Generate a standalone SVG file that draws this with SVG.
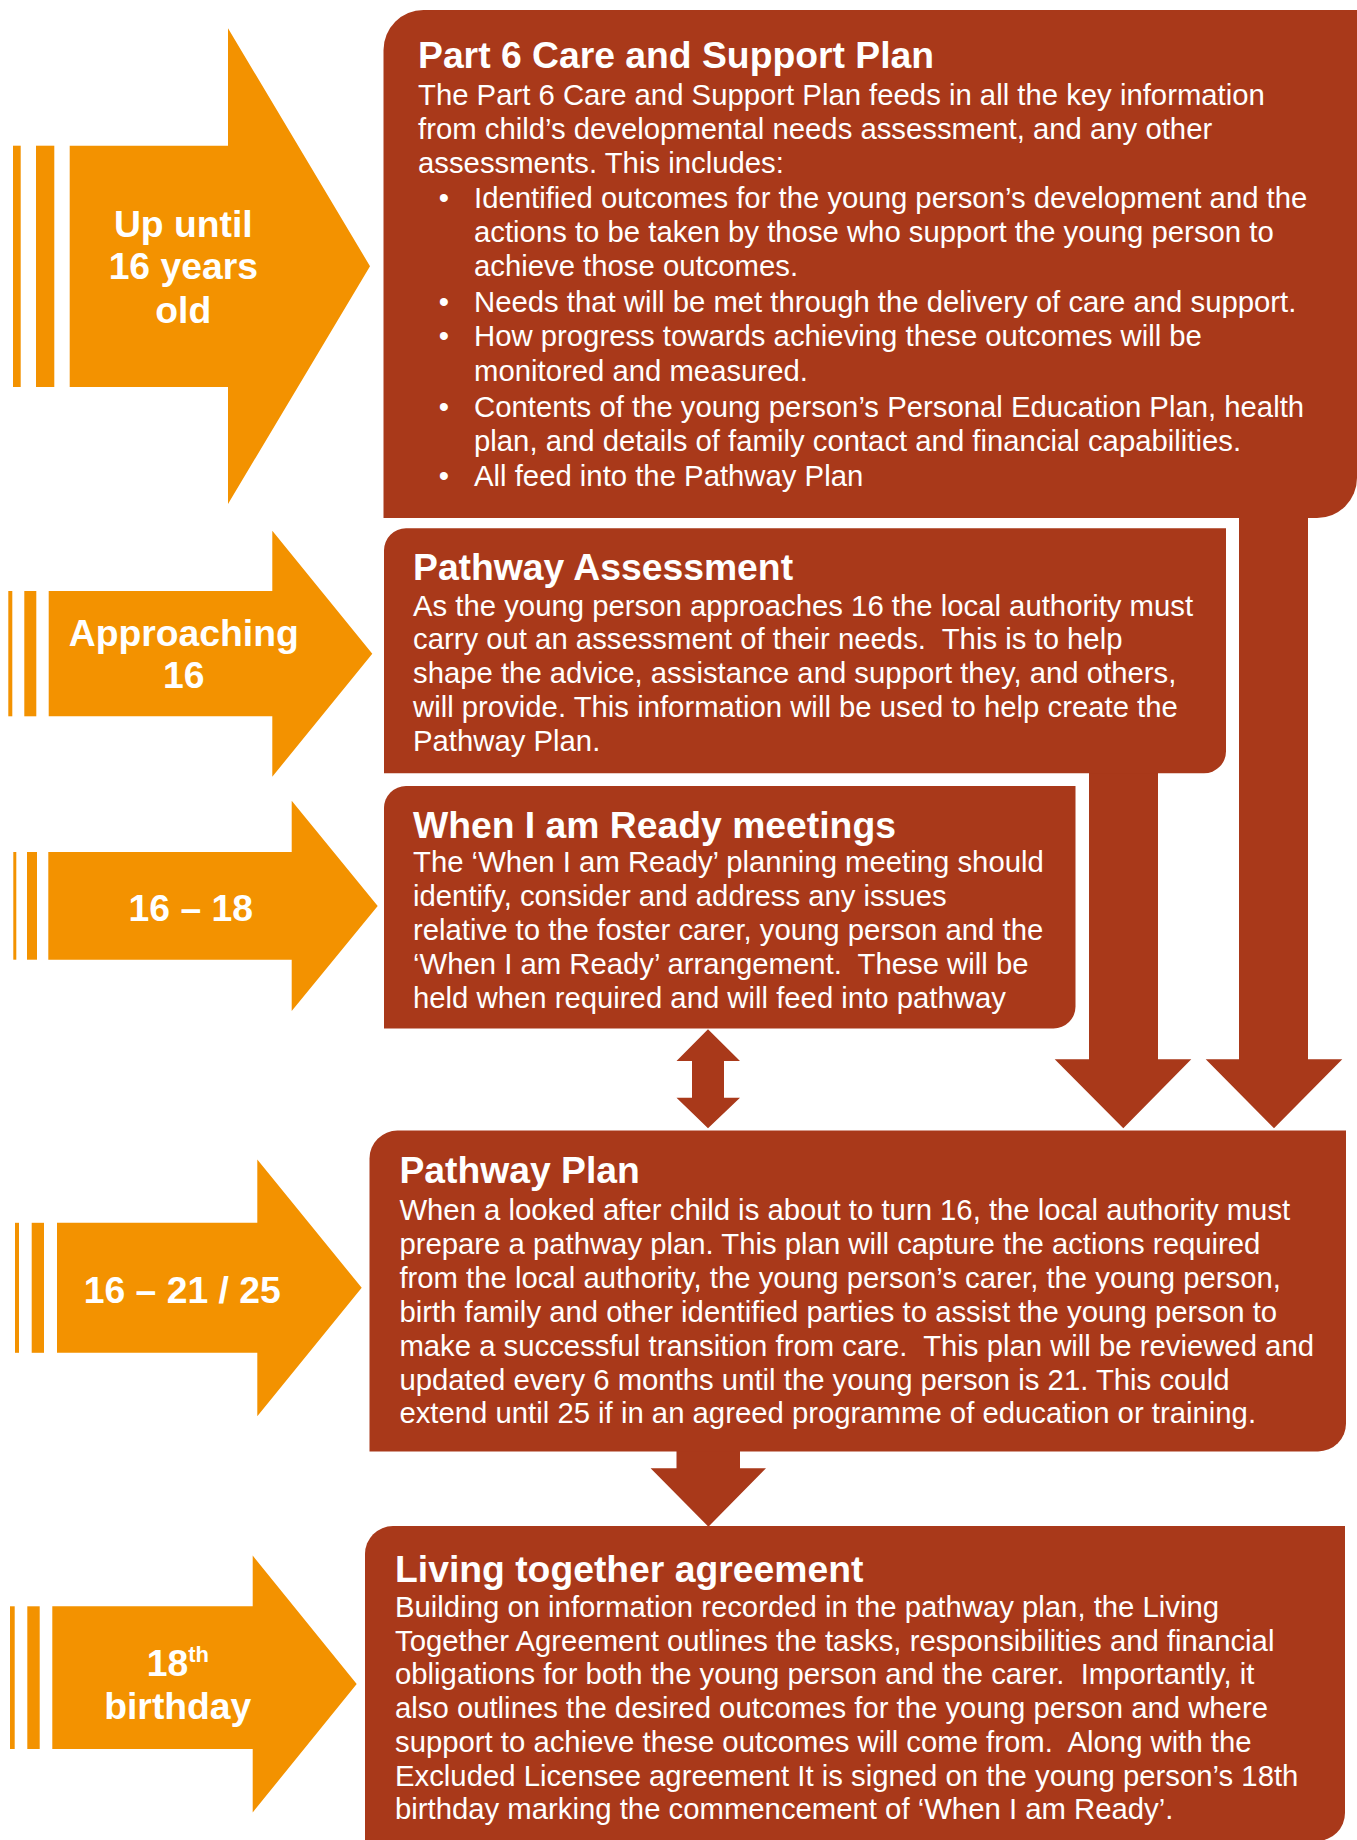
<svg xmlns="http://www.w3.org/2000/svg" width="1357" height="1840" viewBox="0 0 1357 1840">
<style>
.box{fill:#A9391A}
.arw{fill:#F39200}
.con{fill:#A9391A}
text{font-family:"Liberation Sans",Arial,sans-serif;fill:#FFFFFF}
.ttl{font-size:37.3px;font-weight:bold}
.bd{font-size:29.3px}
.lbl{font-size:37.3px;font-weight:bold;text-anchor:middle}
.bul{font-size:29.3px;text-anchor:middle}
</style>
<rect width="1357" height="1840" fill="#FFFFFF"/>

<g id="arrow-up-until-16">
<rect class="arw" x="13" y="145.7" width="7.7" height="241.3"/>
<rect class="arw" x="36" y="145.7" width="18.3" height="241.3"/>
<polygon class="arw" points="69.7,145.7 228,145.7 228,28.3 370,266.2 228,504 228,387 69.7,387"/>
<text class="lbl" x="183.3" y="236.5">Up until</text>
<text class="lbl" x="183.3" y="279.3">16 years</text>
<text class="lbl" x="183.3" y="322.7">old</text>
</g>

<g id="arrow-approaching-16">
<rect class="arw" x="8.3" y="591" width="4" height="125.3"/>
<rect class="arw" x="24.3" y="591" width="12" height="125.3"/>
<polygon class="arw" points="48.7,591 272.3,591 272.3,530.7 372.3,653.7 272.3,776.7 272.3,716.3 48.7,716.3"/>
<text class="lbl" x="183.8" y="645.5">Approaching</text>
<text class="lbl" x="183.8" y="688.2">16</text>
</g>

<g id="arrow-16-18">
<rect class="arw" x="13.3" y="852" width="3" height="107.7"/>
<rect class="arw" x="27" y="852" width="10" height="107.7"/>
<polygon class="arw" points="48.3,852 291.7,852 291.7,800.7 377.7,905.9 291.7,1011 291.7,959.7 48.3,959.7"/>
<text class="lbl" x="190.8" y="920.5">16 – 18</text>
</g>

<g id="arrow-16-21-25">
<rect class="arw" x="15" y="1222.8" width="4" height="130"/>
<rect class="arw" x="31.7" y="1222.8" width="12.3" height="130"/>
<polygon class="arw" points="57,1222.8 257.3,1222.8 257.3,1159.4 361.7,1287.8 257.3,1416.2 257.3,1352.8 57,1352.8"/>
<text class="lbl" x="182.2" y="1302.5">16 – 21 / 25</text>
</g>

<g id="arrow-18th-birthday">
<rect class="arw" x="10" y="1606.3" width="4.7" height="142.7"/>
<rect class="arw" x="27.3" y="1606.3" width="12.4" height="142.7"/>
<polygon class="arw" points="52.3,1606.3 252.7,1606.3 252.7,1555.6 356.7,1684 252.7,1812.4 252.7,1749 52.3,1749"/>
<text class="lbl" x="177.8" y="1676">18<tspan font-size="22px" dy="-14">th</tspan></text>
<text class="lbl" x="177.8" y="1719">birthday</text>
</g>

<g id="connectors">
<polygon class="con" points="1239,510 1308,510 1308,1059.3 1342.3,1059.3 1274,1128.3 1205.7,1059.3 1239,1059.3"/>
<polygon class="con" points="1089,765 1158,765 1158,1059.3 1191.3,1059.3 1123.3,1128.3 1054.7,1059.3 1089,1059.3"/>
<polygon class="con" points="708,1029.3 740,1061 724,1061 724,1097.7 740,1097.7 708,1128.3 676.5,1097.7 692,1097.7 692,1061 676.5,1061"/>
<polygon class="con" points="676.5,1445 740,1445 740,1468.3 766,1468.3 708.4,1526.7 650.6,1468.3 676.5,1468.3"/>
</g>

<g id="part6-care-support-plan">
<path class="box" d="M423.5,10 H1357 V478 A40,40 0 0 1 1317,518 H383.5 V50 A40,40 0 0 1 423.5,10 Z"/>
<g transform="translate(0,1.5)">
<text class="ttl" x="418" y="66.7">Part 6 Care and Support Plan</text>
<text class="bd" x="418" y="103.3">The Part 6 Care and Support Plan feeds in all the key information</text>
<text class="bd" x="418" y="137.3">from child’s developmental needs assessment, and any other</text>
<text class="bd" x="418" y="171.7">assessments. This includes:</text>
<text class="bul" x="444" y="206.7">•</text>
<text class="bd" x="474" y="206.7">Identified outcomes for the young person’s development and the</text>
<text class="bd" x="474" y="240.3">actions to be taken by those who support the young person to</text>
<text class="bd" x="474" y="274.3">achieve those outcomes.</text>
<text class="bul" x="444" y="310">•</text>
<text class="bd" x="474" y="310">Needs that will be met through the delivery of care and support.</text>
<text class="bul" x="444" y="344.8">•</text>
<text class="bd" x="474" y="344.8">How progress towards achieving these outcomes will be</text>
<text class="bd" x="474" y="379.3">monitored and measured.</text>
<text class="bul" x="444" y="415">•</text>
<text class="bd" x="474" y="415">Contents of the young person’s Personal Education Plan, health</text>
<text class="bd" x="474" y="449.3">plan, and details of family contact and financial capabilities.</text>
<text class="bul" x="444" y="484.3">•</text>
<text class="bd" x="474" y="484.3">All feed into the Pathway Plan</text>
</g>
</g>

<g id="pathway-assessment">
<path class="box" d="M406,528.3 H1226 V751.3 A22,22 0 0 1 1204,773.3 H384 V550.3 A22,22 0 0 1 406,528.3 Z"/>
<g transform="translate(0,1.5)">
<text class="ttl" x="413" y="578.3">Pathway Assessment</text>
<text class="bd" x="413" y="614">As the young person approaches 16 the local authority must</text>
<text class="bd" x="413" y="647.7">carry out an assessment of their needs.&#160; This is to help</text>
<text class="bd" x="413" y="681.7">shape the advice, assistance and support they, and others,</text>
<text class="bd" x="413" y="715.7">will provide. This information will be used to help create the</text>
<text class="bd" x="413" y="749.3">Pathway Plan.</text>
</g>
</g>

<g id="when-i-am-ready-meetings">
<path class="box" d="M406,786 H1075.5 V1006.5 A22,22 0 0 1 1053.5,1028.5 H384 V808 A22,22 0 0 1 406,786 Z"/>
<g transform="translate(0,1.5)">
<text class="ttl" x="413" y="836.7">When I am Ready meetings</text>
<text class="bd" x="413" y="870.5">The ‘When I am Ready’ planning meeting should</text>
<text class="bd" x="413" y="904.5">identify, consider and address any issues</text>
<text class="bd" x="413" y="938.5">relative to the foster carer, young person and the</text>
<text class="bd" x="413" y="972.5">‘When I am Ready’ arrangement.&#160; These will be</text>
<text class="bd" x="413" y="1006.5">held when required and will feed into pathway</text>
</g>
</g>

<g id="pathway-plan">
<path class="box" d="M397.5,1130.5 H1346 V1423.5 A28,28 0 0 1 1318,1451.5 H369.5 V1158.5 A28,28 0 0 1 397.5,1130.5 Z"/>
<g transform="translate(0,1.5)">
<text class="ttl" x="399.4" y="1181.7">Pathway Plan</text>
<text class="bd" x="399.4" y="1218.3">When a looked after child is about to turn 16, the local authority must</text>
<text class="bd" x="399.4" y="1252.7">prepare a pathway plan. This plan will capture the actions required</text>
<text class="bd" x="399.4" y="1286.7">from the local authority, the young person’s carer, the young person,</text>
<text class="bd" x="399.4" y="1320.7">birth family and other identified parties to assist the young person to</text>
<text class="bd" x="399.4" y="1354">make a successful transition from care.&#160; This plan will be reviewed and</text>
<text class="bd" x="399.4" y="1388.3">updated every 6 months until the young person is 21. This could</text>
<text class="bd" x="399.4" y="1421.7">extend until 25 if in an agreed programme of education or training.</text>
</g>
</g>

<g id="living-together-agreement">
<path class="box" d="M393,1526 H1345 V1813 A28,28 0 0 1 1317,1841 H365 V1554 A28,28 0 0 1 393,1526 Z"/>
<g transform="translate(0,1.5)">
<text class="ttl" x="395" y="1580">Living together agreement</text>
<text class="bd" x="395" y="1615">Building on information recorded in the pathway plan, the Living</text>
<text class="bd" x="395" y="1649">Together Agreement outlines the tasks, responsibilities and financial</text>
<text class="bd" x="395" y="1682.7">obligations for both the young person and the carer.&#160; Importantly, it</text>
<text class="bd" x="395" y="1716.7">also outlines the desired outcomes for the young person and where</text>
<text class="bd" x="395" y="1750.7">support to achieve these outcomes will come from.&#160; Along with the</text>
<text class="bd" x="395" y="1784">Excluded Licensee agreement It is signed on the young person’s 18th</text>
<text class="bd" x="395" y="1817.3">birthday marking the commencement of ‘When I am Ready’.</text>
</g>
</g>
</svg>
